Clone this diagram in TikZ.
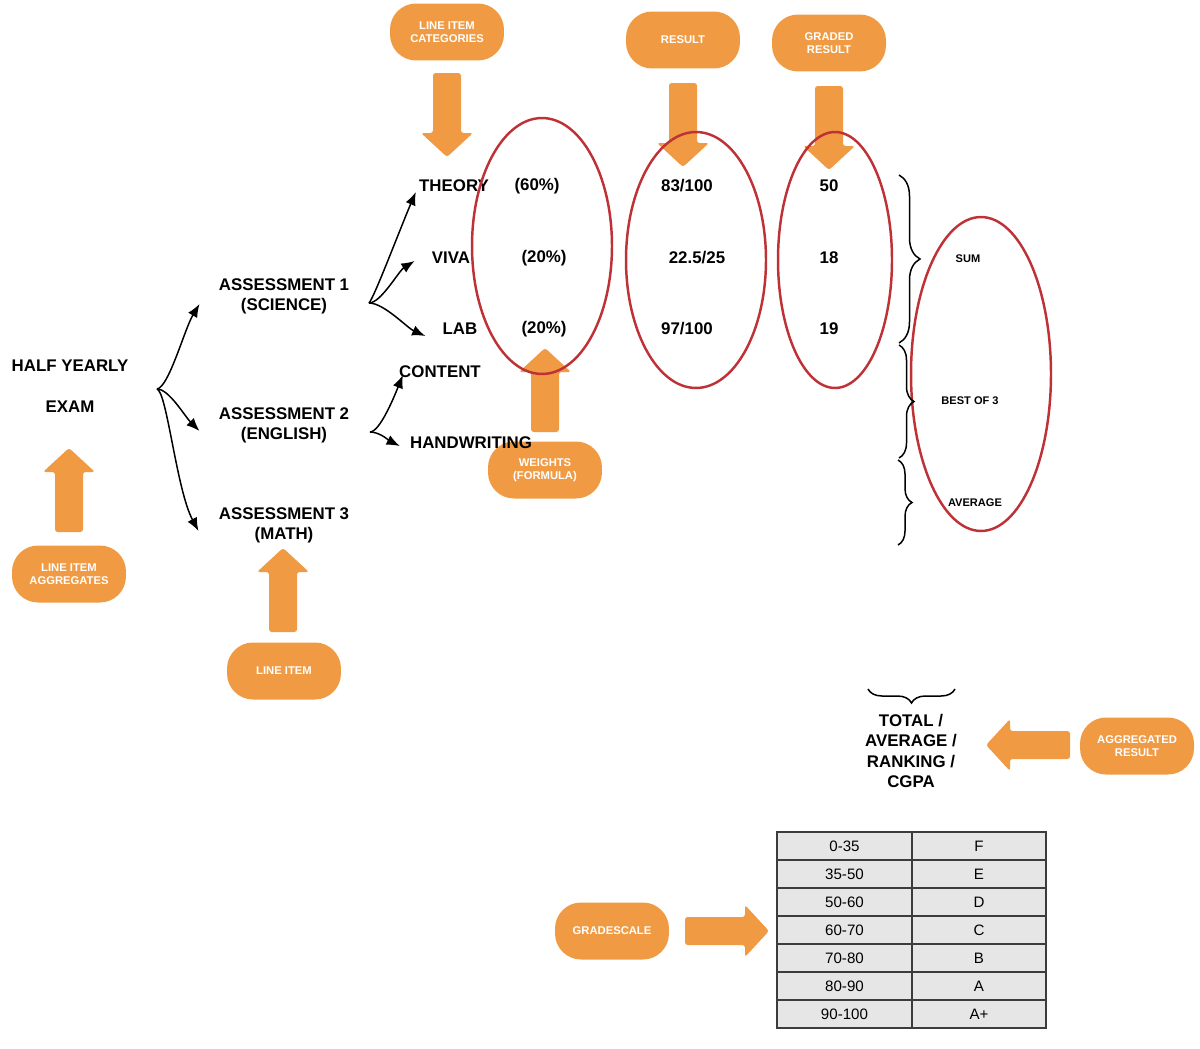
\documentclass[tikz,border=0pt]{standalone}
\usepackage{fontspec}
\setmainfont{Liberation Sans}
\usetikzlibrary{arrows.meta,calc,decorations.pathreplacing}
\definecolor{pillorange}{RGB}{240,155,67}
\definecolor{ringred}{RGB}{190,50,55}
\definecolor{cellgrey}{RGB}{230,230,230}
\definecolor{cellline}{RGB}{60,60,60}
\tikzset{
  pill/.style={fill=pillorange, rounded corners=0.52cm, minimum width=2.28cm,
    minimum height=1.14cm, inner sep=0, align=center, text=white,
    font=\bfseries\fontsize{6.4}{7.4}\selectfont},
  lbl/.style={inner sep=0, align=center, font=\bfseries\fontsize{9.6}{11.4}\selectfont},
  tiny/.style={inner sep=0, font=\bfseries\fontsize{6.3}{7.4}\selectfont},
  cell/.style={draw=cellline, line width=0.7pt, fill=cellgrey, minimum height=0.56cm,
    inner sep=0, font=\fontsize{8.6}{10}\selectfont},
  conn/.style={->, line width=0.85pt},
  ring/.style={draw=ringred, line width=1.4pt},
  curly/.style={decorate, decoration={brace, amplitude=#1}, line width=0.85pt},
  bigarrow/.pic={\fill[pillorange, rounded corners=1.5pt] (0,0) -- (26,24) -- (14,24)
    -- (14,84) -- (-14,84) -- (-14,24) -- (-26,24) -- cycle;}
}
\begin{document}
\begin{tikzpicture}[x=0.02cm, y=-0.02cm, >={Latex[length=7.5pt,width=6pt]}]
  \useasboundingbox (0,0) rectangle (1200,1048);
  % orange callouts
  \node[pill] (categories) at (447,32) {LINE ITEM\\CATEGORIES};
  \node[pill] (result) at (683,40) {RESULT};
  \node[pill] (graded) at (829,43) {GRADED\\RESULT};
  \node[pill] (weights) at (545,470) {WEIGHTS\\(FORMULA)};
  \node[pill] (aggregates) at (69,574) {LINE ITEM\\AGGREGATES};
  \node[pill] (lineitem) at (284,671) {LINE ITEM};
  \node[pill] (aggresult) at (1137,746) {AGGREGATED\\RESULT};
  \node[pill] (gradescale) at (612,931) {GRADESCALE};
  %
  \path (447,157) pic[rotate=180] {bigarrow};
  \path (683,167) pic[rotate=180] {bigarrow};
  \path (829,170) pic[rotate=180] {bigarrow};
  \path (545,348) pic {bigarrow};
  \path (69,448) pic {bigarrow};
  \path (283,548) pic {bigarrow};
  \path (986,745) pic[rotate=90] {bigarrow};
  \path (769,931) pic[rotate=-90] {bigarrow};
  %
  \node[lbl] (exam) at (70,386) {HALF YEARLY\\[12pt]EXAM};
  \node[lbl] (a1) at (284,296) {ASSESSMENT 1\\(SCIENCE)};
  \node[lbl] (a2) at (284,425) {ASSESSMENT 2\\(ENGLISH)};
  \node[lbl] (a3) at (284,525) {ASSESSMENT 3\\(MATH)};
  \node[lbl] (theory) at (454,186) {THEORY};
  \node[lbl] (viva) at (451,258) {VIVA};
  \node[lbl] (lab) at (460,329) {LAB};
  \node[lbl] (content) at (440,372) {CONTENT};
  \node[lbl] (handwriting) at (471,443) {HANDWRITING};
  \node[lbl] (w1) at (537,186) {(60\%)};
  \node[lbl] (w2) at (544,258) {(20\%)};
  \node[lbl] (w3) at (544,329) {(20\%)};
  \node[lbl] (r1) at (687,186) {83/100};
  \node[lbl] (r2) at (697,258) {22.5/25};
  \node[lbl] (r3) at (687,329) {97/100};
  \node[lbl] (g1) at (829,186) {50};
  \node[lbl] (g2) at (829,258) {18};
  \node[lbl] (g3) at (829,329) {19};
  \node[tiny] (sum) at (968,259) {SUM};
  \node[tiny] (best) at (970,401) {BEST OF 3};
  \node[tiny] (avg) at (975,503) {AVERAGE};
  \node[lbl, font=\bfseries\fontsize{9.6}{11.7}\selectfont] (total) at (911,751)
    {TOTAL /\\AVERAGE /\\RANKING /\\CGPA};
  %
  \coordinate (exam-split) at (157,389);
  \coordinate (a1-split) at (369,303);
  \coordinate (a2-split) at (370,432);
  \draw[conn] (exam-split) .. controls +(12,-2) and +(-15,25) .. ($(a1.west)+(-19,8)$);
  \draw[conn] (exam-split) .. controls +(12,0) and +(-15,-15) .. ($(a2.west)+(-19,6)$);
  \draw[conn] (exam-split) .. controls +(10,3) and +(-22,-41) .. ($(a3.west)+(-20,6)$);
  \draw[conn] (a1-split) .. controls +(5,-5) and +(-15,35) .. ($(theory.west)+(-3,6)$);
  \draw[conn] (a1-split) .. controls +(12,0) and +(-16,10) .. ($(viva.west)+(-17,3)$);
  \draw[conn] (a1-split) .. controls +(15,0) and +(-18,-8) .. ($(lab.west)+(-17,7)$);
  \draw[conn] (a2-split) .. controls +(10,0) and +(-8,20) .. ($(content.west)+(4,3)$);
  \draw[conn] (a2-split) .. controls +(10,0) and +(-10,-5) .. ($(handwriting.west)+(-10,3)$);
  %
  \draw[ring] (542,246) ellipse [x radius=1.4cm, y radius=2.56cm];
  \draw[ring] (696,260) ellipse [x radius=1.4cm, y radius=2.56cm];
  \draw[ring] (835,260) ellipse [x radius=1.14cm, y radius=2.56cm];
  \draw[ring] (981,374) ellipse [x radius=1.4cm, y radius=3.14cm];
  %
  \draw[curly=0.42cm] (899,175) -- (899,343);
  \draw[curly=0.3cm] (899,345) -- (899,458);
  \draw[curly=0.28cm] (898,460) -- (898,545);
  \draw[curly=0.28cm] (955,689) -- (868,689);
  %
  \foreach \lo/\gr [count=\i] in {0-35/F, 35-50/E, 50-60/D, 60-70/C, 70-80/B, 80-90/A, 90-100/A+}
  {
    \node[cell, minimum width=2.7cm] (lo\i) at (844.5,{846+28*(\i-1)}) {\lo};
    \node[cell, minimum width=2.68cm] (gr\i) at (979,{846+28*(\i-1)}) {\gr};
  }
\end{tikzpicture}
\end{document}
